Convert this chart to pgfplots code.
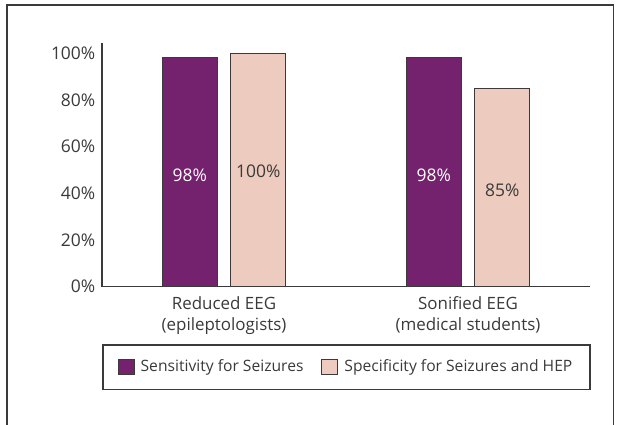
\documentclass[border=0pt]{standalone}
\usepackage{fontspec}
\setmainfont{Open Sans}
\usepackage{pgfplots}
\pgfplotsset{compat=1.18}
\definecolor{purp}{HTML}{74216E}
\definecolor{pinkc}{HTML}{EDCBBF}
\definecolor{txt}{HTML}{3A3A3A}
\definecolor{edge}{HTML}{3A3A3A}
\newcommand{\fs}{\fontsize{17.5}{20}\selectfont}
\newcommand{\fl}{\fontsize{15.7}{18}\selectfont}
\begin{document}
\begin{tikzpicture}[x=1bp,y=1bp]
\useasboundingbox (0,0) rectangle (621,424);
\draw[line width=1.2bp, draw=edge] (7,-2) -- (7,419) -- (613.5,419) -- (613.5,-2);
\draw[line width=1.2bp, draw=edge] (103,79) rectangle (590,34.7);
\begin{axis}[
  at={(102bp,137.3bp)}, anchor=south west,
  scale only axis, width=488bp, height=243.4bp,
  ymin=0, ymax=104.3, xmin=-0.5, xmax=1.5,
  axis lines=left, axis line style={-, line width=1.2bp, draw=edge},
  major tick length=0pt,
  ytick={0,20,40,60,80,100},
  yticklabel={\pgfmathprintnumber{\tick}\%},
  /pgf/number format/assume math mode=true,
  yticklabel style={font=\fs, text=txt, xshift=-3.2bp},
  xtick={0,1},
  xticklabels={{Reduced EEG\\(epileptologists)},{Sonified EEG\\(medical students)}},
  xticklabel style={font=\fontsize{17}{21}\selectfont, text=txt, align=center, yshift=-6bp},
  ybar, bar width=55bp,
  clip=false,
  legend columns=2,
  legend style={at={(rel axis cs:0.5,-0.3287)}, anchor=center, draw=none, fill=none,
    font=\fl, text=txt,
    /tikz/every even column/.append style={column sep=16bp}},
  legend image code/.code={\draw[#1, line width=1bp] (0bp,-7.5bp) rectangle (16bp,7.5bp);},
  every node near coord/.append style={anchor=center, font=\fs},
]
\addplot[fill=purp, draw=edge, line width=1bp, bar shift=-34.25bp] coordinates {(0,98) (1,98)};
\addlegendentry{\hspace{4bp}Sensitivity for Seizures}
\addplot[fill=pinkc, draw=edge, line width=1bp, bar shift=34.25bp] coordinates {(0,100) (1,85)};
\addlegendentry{\hspace{4bp}Specificity for Seizures and HEP}
\addplot[draw=none, fill=none, bar shift=-34.25bp, forget plot,
  nodes near coords, point meta=explicit symbolic,
  every node near coord/.append style={text=white}] coordinates {(0,47.9) [98\%] (1,47.9) [98\%]};
\addplot[draw=none, fill=none, bar shift=34.25bp, forget plot,
  nodes near coords, point meta=explicit symbolic,
  every node near coord/.append style={text=txt}] coordinates {(0,49.3) [100\%] (1,41.4) [85\%]};
\end{axis}
\end{tikzpicture}
\end{document}
